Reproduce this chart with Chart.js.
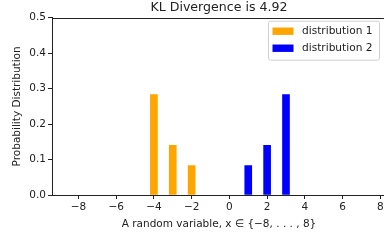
<!DOCTYPE html>
<html>
<head>
<meta charset="utf-8">
<script src="https://cdn.jsdelivr.net/npm/chart.js@4/dist/chart.umd.min.js"></script>
<style>
  html, body { margin: 0; padding: 0; background: #fff; overflow: hidden; }
  #wrap { width: 388px; height: 243px; }
</style>
</head>
<body>
<div id="wrap"><canvas id="chart" width="388" height="243"></canvas></div>
<script>
/* global Chart */

// support of the random variable and the two distributions (null = no mass drawn)
const support = [-8, -7, -6, -5, -4, -3, -2, -1, 0, 1, 2, 3, 4, 5, 6, 7, 8];
const dist1 = [null, null, null, null, 0.283, 0.140, 0.083, null, null, null, null, null, null, null, null, null, null];
const dist2 = [null, null, null, null, null, null, null, null, null, 0.083, 0.140, 0.283, null, null, null, null, null];
const seriesLabels = ["distribution 1", "distribution 2"];
const xTicks = [-8, -6, -4, -2, 0, 2, 4, 6, 8];
const yTicks = [0, 0.1, 0.2, 0.3, 0.4, 0.5];
const klValue = 4.92;

const FONT = "'DejaVu Sans', sans-serif";
const INK = "#222";
const minus = (s) => String(s).replace("-", "\u2212");

const toPoints = (ys) => support.map((x, i) => ({ x, y: ys[i] }));

// matplotlib-like frame: top + right spines
const framePlugin = {
  id: "frame",
  afterDraw(chart) {
    const { ctx, chartArea: a } = chart;
    ctx.save();
    ctx.strokeStyle = INK;
    ctx.lineWidth = 1;
    ctx.beginPath();
    ctx.moveTo(a.left, Math.round(a.top) + 0.5);
    ctx.lineTo(a.right, Math.round(a.top) + 0.5);
    ctx.moveTo(Math.round(a.right) - 0.5, a.top);
    ctx.lineTo(Math.round(a.right) - 0.5, a.bottom);
    ctx.stroke();
    ctx.restore();
  }
};

// legend box in the upper right of the axes
const boxLegendPlugin = {
  id: "boxLegend",
  afterDraw(chart) {
    const { ctx, chartArea: a } = chart;
    const w = 111, h = 39;
    const x0 = a.right - 7 - w;
    const y0 = a.top + 3;
    ctx.save();
    ctx.beginPath();
    ctx.roundRect(x0 + 0.5, y0 + 0.5, w, h, 2);
    ctx.fillStyle = "rgba(255,255,255,0.8)";
    ctx.fill();
    ctx.strokeStyle = "#d0d0d0";
    ctx.lineWidth = 1;
    ctx.stroke();
    ctx.font = `10.6px ${FONT}`;
    ctx.textBaseline = "middle";
    ctx.textAlign = "left";
    chart.data.datasets.forEach((ds, i) => {
      const cy = y0 + 10.5 + i * 17;
      ctx.fillStyle = ds.backgroundColor;
      ctx.fillRect(x0 + 4.5, cy - 3.7, 21, 7.4);
      ctx.fillStyle = INK;
      ctx.fillText(ds.label, x0 + 34, cy + 0.5);
    });
    ctx.restore();
  }
};

const axisColor = { color: INK, width: 1 };
const tickGrid = { drawOnChartArea: false, drawTicks: true, tickLength: 4, tickColor: INK, offset: false };

new Chart(document.getElementById("chart").getContext("2d"), {
  type: "bar",
  data: {
    datasets: [
      { label: seriesLabels[0], data: toPoints(dist1), backgroundColor: "#ffa500", grouped: false, barThickness: 7 },
      { label: seriesLabels[1], data: toPoints(dist2), backgroundColor: "#0000ff", grouped: false, barThickness: 7 }
    ]
  },
  options: {
    responsive: false,
    animation: false,
    events: [],
    layout: { padding: { left: 0, right: 2, top: 0, bottom: 0 } },
    plugins: {
      legend: { display: false },
      tooltip: { enabled: false },
      title: {
        display: true,
        text: `KL Divergence is ${klValue}`,
        fullSize: false,
        color: INK,
        font: { family: FONT, size: 12.6, weight: "normal", lineHeight: 1.2 },
        padding: { top: 0, bottom: 2.6 }
      }
    },
    scales: {
      x: {
        type: "linear",
        min: -9.4,
        max: 8.3,
        offset: false,
        border: axisColor,
        grid: tickGrid,
        afterBuildTicks: (s) => { s.ticks = xTicks.map((v) => ({ value: v })); },
        afterFit: (s) => { s.height = 48; },
        ticks: {
          color: INK,
          padding: 2,
          maxRotation: 0,
          font: { family: FONT, size: 10.5 },
          callback: (v) => minus(v)
        },
        title: {
          display: true,
          text: "A random variable, x \u2208 {\u22128, . . . , 8}",
          color: INK,
          font: { family: FONT, size: 10.5 },
          padding: { top: 0, bottom: 12.7 }
        }
      },
      y: {
        min: 0,
        max: 0.5,
        border: axisColor,
        grid: tickGrid,
        afterBuildTicks: (s) => { s.ticks = yTicks.map((v) => ({ value: v })); },
        afterFit: (s) => { s.width = 52; },
        ticks: {
          color: INK,
          padding: 2,
          font: { family: FONT, size: 10.5 },
          callback: (v) => v.toFixed(1)
        },
        title: {
          display: true,
          text: "Probability Distribution",
          color: INK,
          font: { family: FONT, size: 10.5 },
          padding: { top: 11, bottom: 0 }
        }
      }
    }
  },
  plugins: [framePlugin, boxLegendPlugin]
});
</script>
</body>
</html>
